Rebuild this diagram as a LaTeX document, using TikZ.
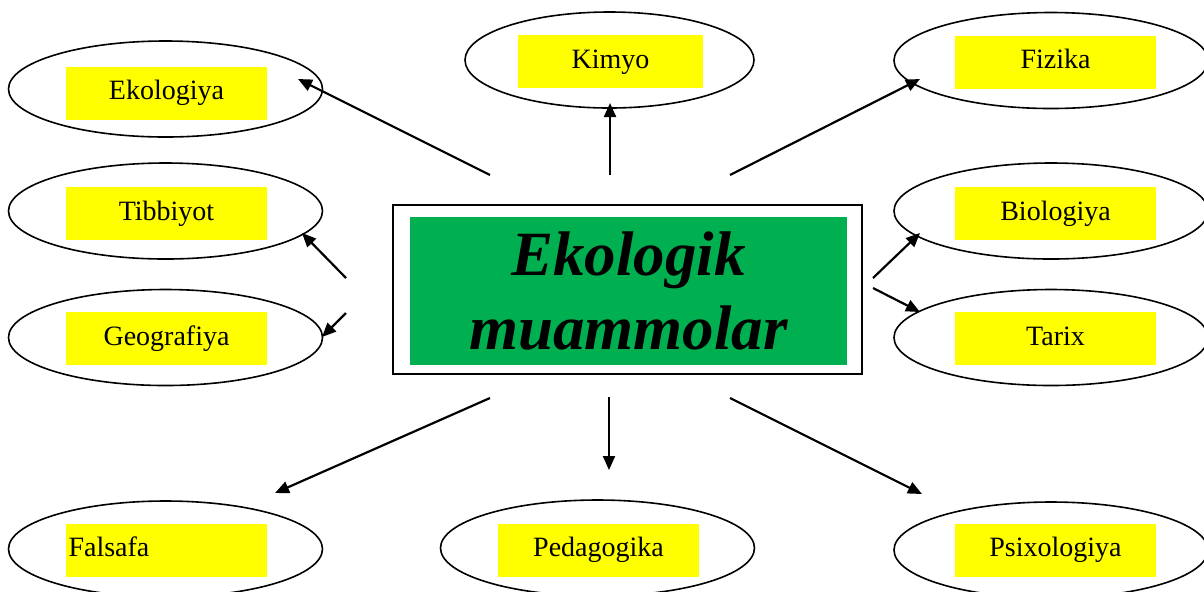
\documentclass[tikz,border=0pt]{standalone}
\usepackage{fontspec}
\setmainfont{Liberation Serif}
\usetikzlibrary{shapes.geometric,arrows.meta}
\definecolor{leaf}{RGB}{0,176,80}
\definecolor{lemon}{RGB}{255,255,0}

\begin{document}
\begin{tikzpicture}[x=0.5pt,y=-0.5pt,
	oval/.style={draw,ellipse,line width=0.8pt,minimum width=157pt,minimum height=48pt,inner sep=0pt},
	tag/.style={fill=lemon,minimum width=100.5pt,minimum height=26.5pt,inner sep=0pt,
		font=\fontsize{14}{16}\selectfont,text height=10pt,text depth=3.5pt},
	link/.style={line width=1.1pt,-{Triangle[length=7pt,width=6pt]}}]
	\useasboundingbox (0,0) rectangle (1204,591);
	\clip (0,0) rectangle (1204,591);

	\node[draw,line width=0.75pt,minimum width=234.5pt,minimum height=84.5pt,inner sep=0pt] (box) at (627.5,289.5) {};
	\node[fill=leaf,minimum width=218.5pt,minimum height=74pt,inner sep=0pt,align=center,
		font=\fontsize{31.5}{36.5}\selectfont\bfseries\itshape] (core) at (628.5,291) {Ekologik\\muammolar};

	\node[oval] (eko) at (165.5,89) {};
	\node[tag] (ekoT) at (166.5,93) {Ekologiya};
	\node[oval,minimum width=144.5pt] (kim) at (609.5,60) {};
	\node[tag,minimum width=92.5pt] (kimT) at (610.5,61.5) {Kimyo};
	\node[oval] (fiz) at (1051,60.5) {};
	\node[tag] (fizT) at (1055.5,62) {Fizika};
	\node[oval] (tib) at (165.5,211) {};
	\node[tag] (tibT) at (166.5,213.5) {Tibbiyot};
	\node[oval] (geo) at (165.5,337.5) {};
	\node[tag] (geoT) at (166.5,338.5) {Geografiya};
	\node[oval] (bio) at (1051,211) {};
	\node[tag] (bioT) at (1055.5,213.5) {Biologiya};
	\node[oval] (tar) at (1051,337.5) {};
	\node[tag] (tarT) at (1055.5,338.5) {Tarix};
	\node[oval] (fal) at (165.5,549) {};
	\node[tag,text width=98pt,inner xsep=1.25pt,align=left] (falT) at (166.5,550) {Falsafa};
	\node[oval] (ped) at (597.5,548) {};
	\node[tag] (pedT) at (598.5,550) {Pedagogika};
	\node[oval] (psi) at (1051,550) {};
	\node[tag] (psiT) at (1055.5,550) {Psixologiya};

	\coordinate (ekoA) at (490,175);	\coordinate (ekoB) at (298,79);
	\coordinate (kimA) at (610,175);	\coordinate (kimB) at (610,103);
	\coordinate (fizA) at (730,175);	\coordinate (fizB) at (920,79);
	\coordinate (tibA) at (346,278);	\coordinate (tibB) at (302,233);
	\coordinate (geoA) at (346,313);	\coordinate (geoB) at (322,337);
	\coordinate (bioA) at (873,278);	\coordinate (bioB) at (920,233);
	\coordinate (tarA) at (873,288);	\coordinate (tarB) at (920,312);
	\coordinate (falA) at (490,398);	\coordinate (falB) at (275,493);
	\coordinate (pedA) at (609,397);	\coordinate (pedB) at (609,470);
	\coordinate (psiA) at (730,398);	\coordinate (psiB) at (922,494);

	\draw[link] (ekoA) -- (ekoB);
	\draw[link] (kimA) -- (kimB);
	\draw[link] (fizA) -- (fizB);
	\draw[link] (tibA) -- (tibB);
	\draw[link] (geoA) -- (geoB);
	\draw[link] (bioA) -- (bioB);
	\draw[link] (tarA) -- (tarB);
	\draw[link] (falA) -- (falB);
	\draw[link] (pedA) -- (pedB);
	\draw[link] (psiA) -- (psiB);
\end{tikzpicture}
\end{document}
